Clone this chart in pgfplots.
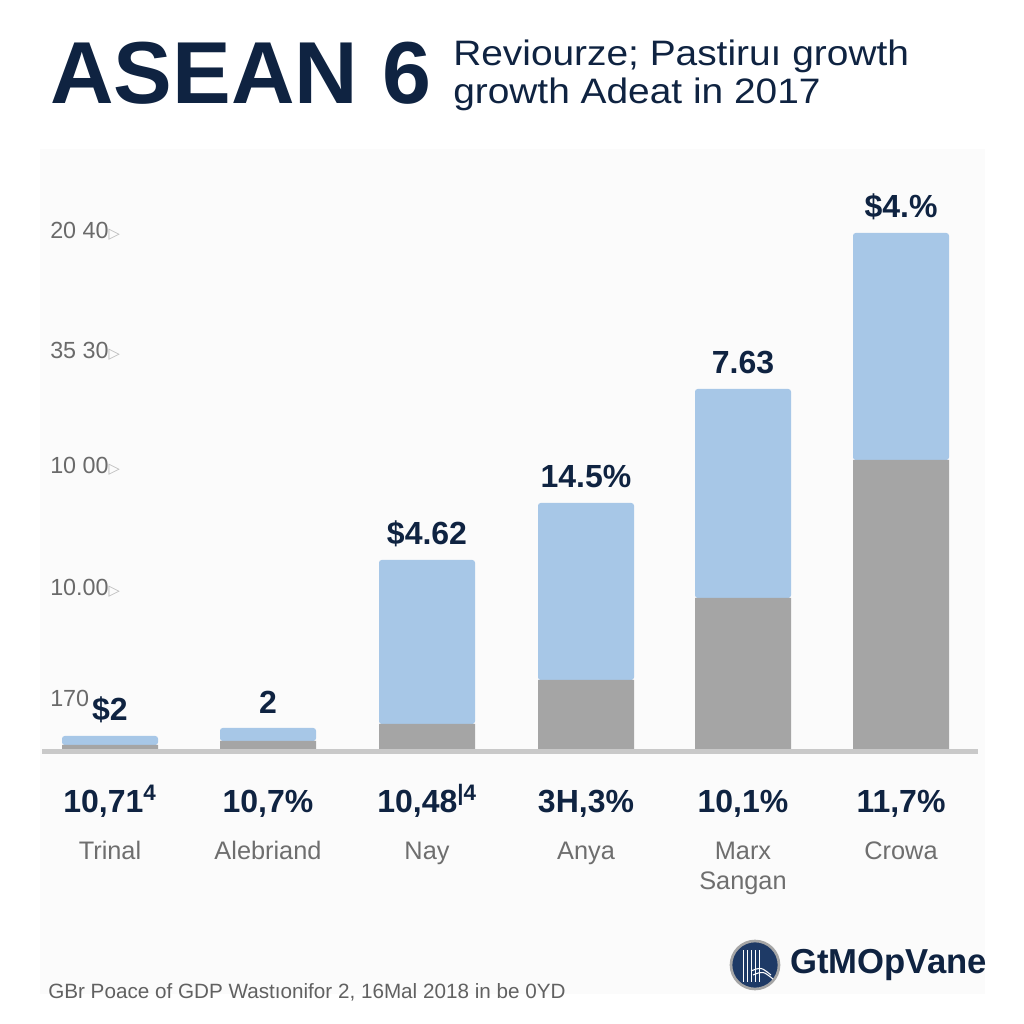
\documentclass[border=0pt]{standalone}
\usepackage{pgfplots}
\pgfplotsset{compat=1.18}
\usepackage{graphicx}
\usepackage{fontspec}
\setmainfont{Liberation Sans}
\newfontfamily\dejavu{DejaVu Sans}
\definecolor{navy}{HTML}{0F2341}
\definecolor{barblue}{HTML}{A7C7E7}
\definecolor{bargray}{HTML}{A5A5A5}
\definecolor{tickgray}{HTML}{6A6A6A}
\definecolor{catgray}{HTML}{6E6E6E}
\definecolor{basegray}{HTML}{C9C9C9}
\definecolor{logoblue}{HTML}{1E3A66}
\newcommand\tri{{\color{black!28}\dejavu\fontsize{11}{11}\selectfont ▷}}
\newcommand\pct[1]{{\fontsize{24}{24}\selectfont\bfseries\color{navy}#1}}
\newcommand\supx[1]{\smash{\textsuperscript{#1}}}
\begin{document}
\begin{tikzpicture}[x=0.75pt,y=0.75pt]
\fill[white] (0,0) rectangle (1024,1024);
\fill[black!1.5] (40,30) rectangle (985,875);
% title
\node[anchor=base west, inner sep=0, font=\fontsize{66}{66}\selectfont\bfseries, text=navy] at (50,920) {ASEAN 6};
\node[anchor=base west, inner sep=0, font=\fontsize{26.5}{27}\selectfont, text=navy] at (453,958) {\scalebox{1.1}[1]{Reviourze; Pastiruı growth}};
\node[anchor=base west, inner sep=0, font=\fontsize{26.5}{27}\selectfont, text=navy] at (453,920) {\scalebox{1.1}[1]{growth Adeat in 2017}};
\begin{axis}[
  at={(42,275)}, anchor=south west,
  scale only axis, width=702pt, height=420pt,
  xmin=0, xmax=936, ymin=0, ymax=560,
  ybar stacked, bar width=96,
  axis line style={draw=none},
  tick style={draw=none},
  clip=false,
  xtick={68,226,385,544,701,859},
  xticklabels={
    {\pct{10,71\supx{4}}\\[12.5pt]Trinal},
    {\pct{10,7\%}\\[12.5pt]Alebriand},
    {\pct{10,48\supx{|4}}\\[12.5pt]Nay},
    {\pct{3H,3\%}\\[12.5pt]Anya},
    {\pct{10,1\%}\\[12.5pt]Marx\\Sangan},
    {\pct{11,7\%}\\[12.5pt]Crowa}},
  xticklabel style={align=center, anchor=north, inner sep=0pt, yshift=-30.75pt,
    font=\fontsize{19}{22.5}\selectfont, text=catgray},
  ytick={51,161,283,398,518},
  yticklabels={170,10.00\tri,10 00\tri,35 30\tri,20 40\tri},
  yticklabel style={anchor=west, inner sep=0pt, xshift=6pt,
    font=\fontsize{17.5}{17.5}\selectfont, text=tickgray},
]
\addplot[fill=bargray, draw=none] coordinates {(68,4) (226,8) (385,25) (544,69) (701,151) (859,289)};
\addplot[fill=barblue, draw=none, rounded corners=2pt,
  visualization depends on={rawy \as \segh},
  nodes near coords, point meta=explicit symbolic,
  every node near coord/.append style={anchor=center, yshift={\segh*0.375pt+19.5pt},
    font=\fontsize{24}{24}\selectfont\bfseries, text=navy, rounded corners=0pt}]
  coordinates {(68,9) [\$2] (226,13) [2] (385,164) [\$4.62] (544,177) [14.5\%] (701,209) [7.63] (859,227) [\$4.\%]};
\draw[basegray, line width=3.75pt] (axis cs:0,-2.5) -- (axis cs:936,-2.5);
\end{axis}
% footer
\node[anchor=west, inner sep=0, font=\fontsize{15.5}{15.5}\selectfont, text=black!62] at (48,32) {GBr Poace of GDP Wastıonifor 2, 16Mal 2018 in be 0YD};
\begin{scope}[shift={(755,59)}]
  \fill[logoblue] (0,0) circle (24);
  \draw[black!35, line width=2pt] (0,0) circle (24);
  \foreach \x in {-12,-8,-4,0,4}{\draw[white, line width=0.7pt] (\x,-17) -- (\x,15);}
  \draw[white, line width=0.8pt] (-4,-6) .. controls (6,-2) .. (16,-10);
  \draw[white, line width=0.8pt] (-2,-10) .. controls (8,-6) .. (18,-14);
\end{scope}
\node[anchor=west, inner sep=0, font=\fontsize{26}{26}\selectfont\bfseries, text=navy] at (790,59) {GtMOpVane};
\end{tikzpicture}
\end{document}
